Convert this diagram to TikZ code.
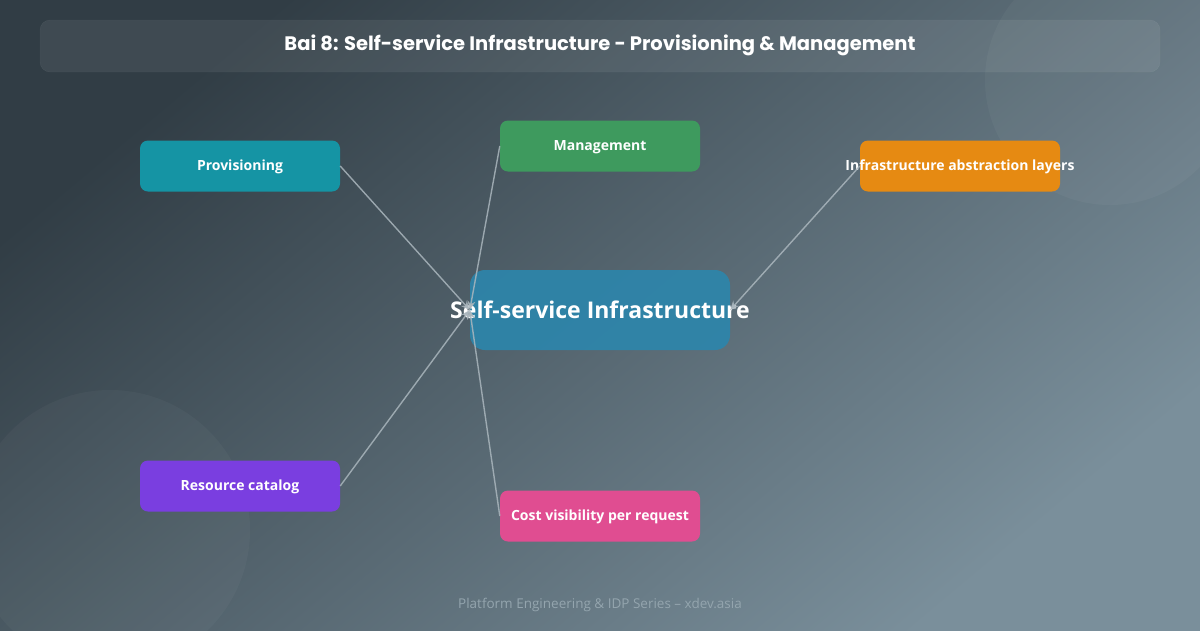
\documentclass[tikz,border=0pt]{standalone}
\usepackage{fontspec}
\setmainfont{Open Sans}
\newfontfamily\titlefont{Poppins}
\usepackage{tikz}
\usetikzlibrary{
  arrows.meta,
  positioning,
  calc
}
\definecolor{SSbgA}{HTML}{313D45}
\definecolor{SSbgD}{HTML}{7A8F9B}
\definecolor{SSteal}{HTML}{1594A4}
\definecolor{SSgreen}{HTML}{3E9A5E}
\definecolor{SSorange}{HTML}{E68A12}
\definecolor{SSblue}{HTML}{2C86AC}
\definecolor{SSpurple}{HTML}{7A3EE0}
\definecolor{SSpink}{HTML}{E04D91}
\definecolor{SSlink}{HTML}{AAB6BD}
\definecolor{SSfoot}{HTML}{94A5AE}

\begin{document}
\begin{tikzpicture}[
      x=1pt, y=-1pt,
      >=Stealth,
      topicbox/.style={
        rectangle, rounded corners=8pt,
        fill=#1, text=white,
        minimum width=200pt, minimum height=51pt,
        inner sep=0pt, text depth=1pt,
        font=\fontsize{14}{16}\selectfont\bfseries
      },
      hubbox/.style={
        rectangle, rounded corners=15pt,
        fill=SSblue, fill opacity=0.9, text opacity=1, text=white,
        minimum width=260pt, minimum height=80pt,
        inner sep=0pt,
        font=\fontsize{23}{26}\selectfont\bfseries
      },
      linkarr/.style={draw=SSlink, line width=1.4pt, draw opacity=0.85,
        arrows={-Stealth[length=9pt, width=8pt]}}
    ]

    % Background
    \useasboundingbox (0,0) rectangle (1200,630);
    \shade[top color=SSbgA, bottom color=SSbgD, shading angle=40]
      (0,0) rectangle (1200,630);
    \fill[white, opacity=0.035] (1110,80) circle (125pt);
    \fill[white, opacity=0.03] (110,530) circle (140pt);

    % Title bar
    \filldraw[fill=white, fill opacity=0.07, draw=white, draw opacity=0.06,
      rounded corners=10pt] (40,20) rectangle (1160,72);
    \node[text=white, font=\titlefont\fontsize{19.5}{22}\selectfont\bfseries] (title) at (600,45)
      {Bai 8: Self-service Infrastructure - Provisioning \& Management};

    % Hub
    \node[hubbox] (hub) at (600,310) {\makebox[240pt]{Self-service Infrastructure}};

    % Topics
    \node[topicbox=SSteal]   (prov)  at (240,166) {Provisioning};
    \node[topicbox=SSgreen]  (mgmt)  at (600,146) {Management};
    \node[topicbox=SSorange] (abstr) at (960,166) {\makebox[180pt]{Infrastructure abstraction layers}};
    \node[topicbox=SSpurple] (cat)   at (240,486) {Resource catalog};
    \node[topicbox=SSpink]   (cost)  at (600,516) {Cost visibility per request};

    % Links
    \draw[linkarr] (prov.east)  -- (hub.west);
    \draw[linkarr] (mgmt.west)  -- (hub.west);
    \draw[linkarr] (abstr.west) -- (hub.east);
    \draw[linkarr] (cat.east)   -- (hub.west);
    \draw[linkarr] (cost.west)  -- (hub.west);

    % Footer
    \node[text=SSfoot, font=\fontsize{13.5}{15}\selectfont] (foot) at (600,605)
      {Platform Engineering \& IDP Series – xdev.asia};
  \end{tikzpicture}
\end{document}
